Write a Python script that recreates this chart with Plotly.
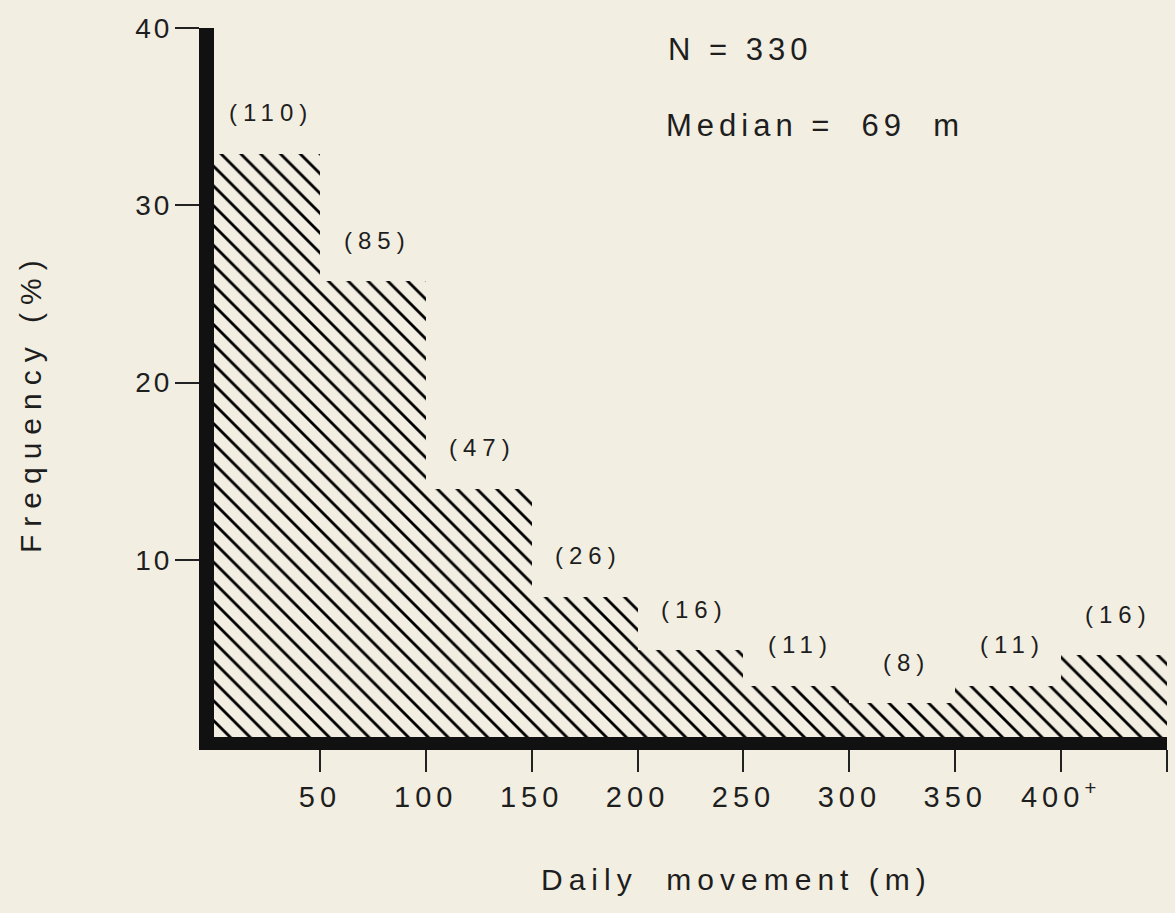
import plotly.graph_objects as go

bin_left = [0, 50, 100, 150, 200, 250, 300, 350, 400]
bin_width = [50] * 9
freq_pct = [32.9, 25.7, 14.0, 7.9, 4.9, 2.9, 1.9, 2.9, 4.6]
counts = ["(110)", "(85)", "(47)", "(26)", "(16)", "(11)", "(8)", "(11)", "(16)"]
x_tickvals = [50, 100, 150, 200, 250, 300, 350, 400, 450]
x_ticktext = ["50", "100", "150", "200", "250", "300", "350", "400<sup>+</sup>", ""]
y_tickvals = [10, 20, 30, 40]
y_ticktext = ["10", "20", "30", "40"]

BG = "#f2eee2"
INK = "#1e1e1e"
FONT = "Liberation Sans, Arial, sans-serif"
NB = "\u00a0"


def ls(t, px):
    return f'<span style="letter-spacing:{px}px">{t}</span>'


fig = go.Figure()
fig.add_trace(go.Bar(
    x=[l + w / 2 for l, w in zip(bin_left, bin_width)],
    y=freq_pct,
    width=bin_width,
    marker=dict(
        color=BG,
        line=dict(width=0),
        pattern=dict(shape="\\", fgcolor="#000000", bgcolor=BG, fgopacity=1,
                     size=14, solidity=0.2),
    ),
    hoverinfo="skip",
))

for l, w, v, c in zip(bin_left, bin_width, freq_pct, counts):
    fig.add_annotation(x=l + w / 2 + 2, y=v, text=ls(c, 6), showarrow=False,
                       yanchor="middle", yshift=41,
                       font=dict(size=24, color=INK, family=FONT))

fig.add_annotation(xref="paper", yref="paper", x=(666 - 214) / 953, y=(737 - 50) / 709,
                   xanchor="left", yanchor="middle", showarrow=False,
                   text=ls(f"N{NB}={NB}330", 5), font=dict(size=31, color=INK, family=FONT))
fig.add_annotation(xref="paper", yref="paper", x=(664 - 214) / 953, y=(737 - 125) / 709,
                   xanchor="left", yanchor="middle", showarrow=False,
                   text=ls(f"Median{NB}={NB}{NB}69{NB}{NB}m", 5), font=dict(size=31, color=INK, family=FONT))

fig.add_annotation(xref="paper", yref="paper", x=(736 - 214) / 953, y=(737 - 880) / 709,
                   xanchor="center", yanchor="middle", showarrow=False,
                   text=ls(f"Daily{NB}{NB}movement{NB}(m)", 6), font=dict(size=30, color=INK, family=FONT))
fig.add_annotation(xref="paper", yref="paper", x=(30 - 214) / 953, y=(737 - 403) / 709,
                   xanchor="center", yanchor="middle", showarrow=False, textangle=-90,
                   text=ls(f"Frequency{NB}(%)", 8), font=dict(size=30, color=INK, family=FONT))

fig.update_layout(
    width=1175, height=913,
    margin=dict(l=214, r=8, t=28, b=176),
    paper_bgcolor=BG, plot_bgcolor=BG,
    showlegend=False, bargap=0,
    font=dict(family=FONT, color=INK),
)
fig.update_xaxes(
    range=[0, 450], tickvals=x_tickvals, ticktext=[ls(t, 5) for t in x_ticktext],
    showgrid=False, zeroline=False,
    showline=True, linecolor="#111111", linewidth=13,
    ticks="outside", ticklen=22, tickwidth=2, tickcolor="#222222",
    tickfont=dict(size=29, color=INK, family=FONT),
)
fig.update_yaxes(
    range=[0, 40], tickvals=y_tickvals, ticktext=[ls(t, 3) for t in y_ticktext],
    showgrid=False, zeroline=False,
    showline=True, linecolor="#111111", linewidth=15,
    ticks="outside", ticklen=24, tickwidth=2, tickcolor="#222222",
    ticklabelstandoff=-3,
    tickfont=dict(size=28, color=INK, family=FONT),
)

fig.write_html("out.html")
